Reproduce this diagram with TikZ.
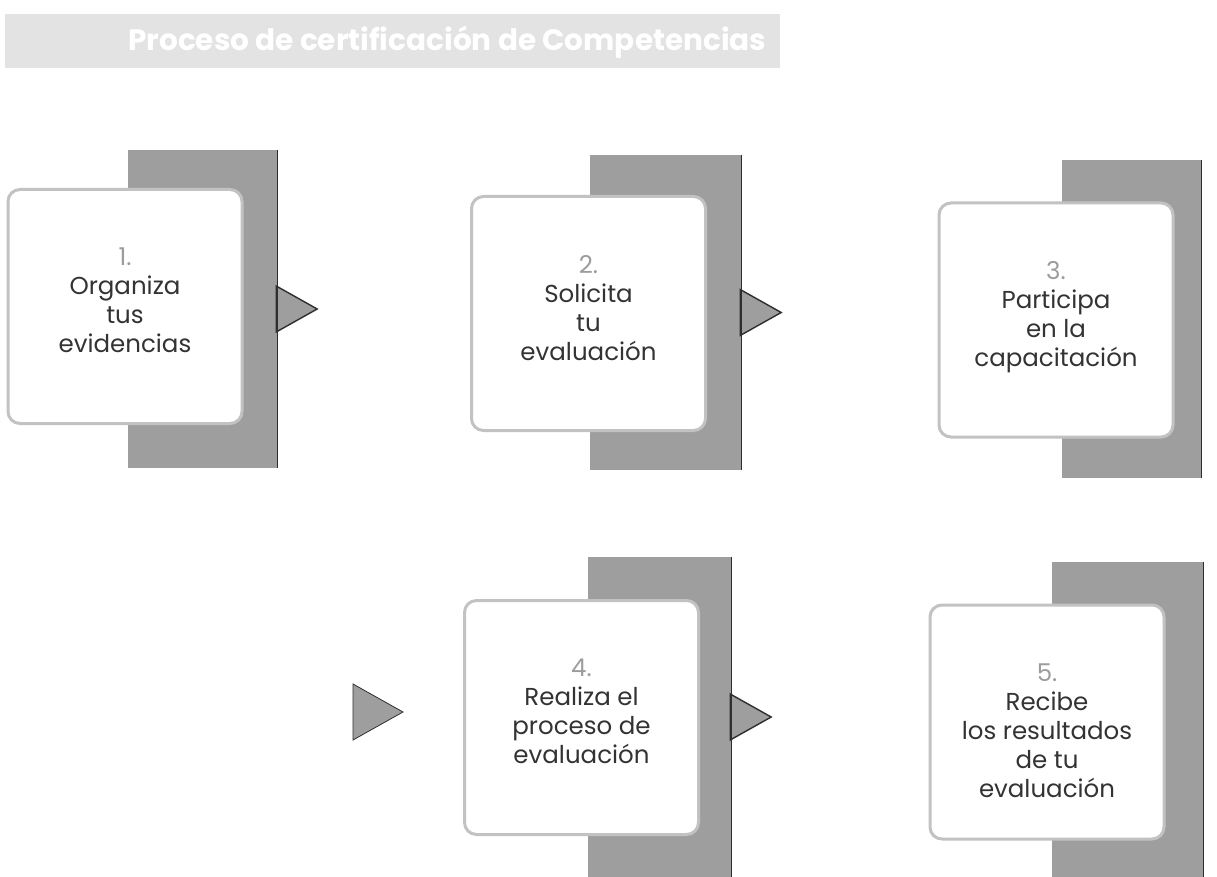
\documentclass[tikz,border=0pt]{standalone}
\usepackage{fontspec}
\setmainfont{Poppins}
\usepackage{xcolor}
\usepackage{tikz}
\usetikzlibrary{positioning}
\usetikzlibrary{calc}

\definecolor{blockgray}{HTML}{9E9E9E}
\definecolor{edgegray}{HTML}{2E2E2E}
\definecolor{framegray}{HTML}{C2C2C2}
\definecolor{bandgray}{HTML}{E3E3E3}
\definecolor{txtgray}{HTML}{333333}
\definecolor{numgray}{HTML}{9C9C9C}

\tikzset{
  block/.style={rectangle, fill=blockgray, inner sep=0pt},
  card/.style={rectangle, fill=white, draw=framegray, line width=3pt, rounded corners=12pt,
               minimum width=234pt, minimum height=234pt, inner sep=0pt},
  cardtext/.style={anchor=north, align=center, text=txtgray, inner sep=0pt,
                   font=\fontsize{24.5}{29}\selectfont},
  rimline/.style={draw=edgegray, line width=1.4pt, line join=miter},
}

\begin{document}
\begin{tikzpicture}[x=1pt,y=-1pt]
\useasboundingbox (0,0) rectangle (1217,877);

% title band
\node[fill=bandgray, minimum width=775pt, minimum height=54pt, inner sep=0pt] (band) at (392.5,41) {};
\node[anchor=west, text=white, inner sep=0pt, font=\bfseries\fontsize{29.5}{32}\selectfont] (title) at (128,42) {Proceso de certificación de Competencias};

% gray blocks behind the cards
\node[block, minimum width=149pt, minimum height=318pt] (g1) at (202.5,309) {};
\node[block, minimum width=151pt, minimum height=315pt] (g2) at (665.5,312.5) {};
\node[block, minimum width=139pt, minimum height=318pt] (g3) at (1131.5,319) {};
\node[block, minimum width=143pt, minimum height=320pt] (g4) at (659.5,717) {};
\node[block, minimum width=151pt, minimum height=315pt] (g5) at (1127.5,719.5) {};

% cards
\node[card] (b1) at (125,306.5) {};
\node[card] (b2) at (588.5,313.5) {};
\node[card] (b3) at (1056,320) {};
\node[card] (b4) at (581.5,717.5) {};
\node[card] (b5) at (1047,722) {};

\node[cardtext] (t1) at ($(b1.north)+(0,60)$) {{\color{numgray}1.}\\Organiza\\tus\\evidencias};
\node[cardtext] (t2) at ($(b2.north)+(0,60)$) {{\color{numgray}2.}\\Solicita\\tu\\evaluación};
\node[cardtext] (t3) at ($(b3.north)+(0,60)$) {{\color{numgray}3.}\\Participa\\en la\\capacitación};
\node[cardtext] (t4) at ($(b4.north)+(0,60)$) {{\color{numgray}4.}\\Realiza el\\proceso de\\evaluación};
\node[cardtext] (t5) at ($(b5.north)+(0,60)$) {{\color{numgray}5.}\\Recibe\\los resultados\\de tu\\evaluación};

% pointers on the right edges
\coordinate (e1) at (g1.east);
\coordinate (e2) at (g2.east);
\coordinate (e4) at (g4.east);
\filldraw[fill=blockgray, rimline] ($(e1)+(-1,-23)$) -- ($(e1)+(40,0)$) -- ($(e1)+(-1,23)$) -- cycle;
\filldraw[fill=blockgray, rimline] ($(e2)+(-1,-23)$) -- ($(e2)+(40,0)$) -- ($(e2)+(-1,23)$) -- cycle;
\filldraw[fill=blockgray, rimline] ($(e4)+(-1,-23)$) -- ($(e4)+(40,0)$) -- ($(e4)+(-1,23)$) -- cycle;
\draw[rimline] (g1.north east) -- (g1.south east);
\draw[rimline] (g2.north east) -- (g2.south east);
\draw[rimline] (g3.north east) -- (g3.south east);
\draw[rimline] (g4.north east) -- (g4.south east);
\draw[rimline] (g5.north east) -- (g5.south east);

% pointer that opens the second row
\coordinate (w4) at (353,712);
\path[fill=blockgray, rimline, line width=0.8pt] ($(w4)+(0,-28)$) -- ($(w4)+(50,0)$) -- ($(w4)+(0,28)$) -- cycle;

\end{tikzpicture}
\end{document}
